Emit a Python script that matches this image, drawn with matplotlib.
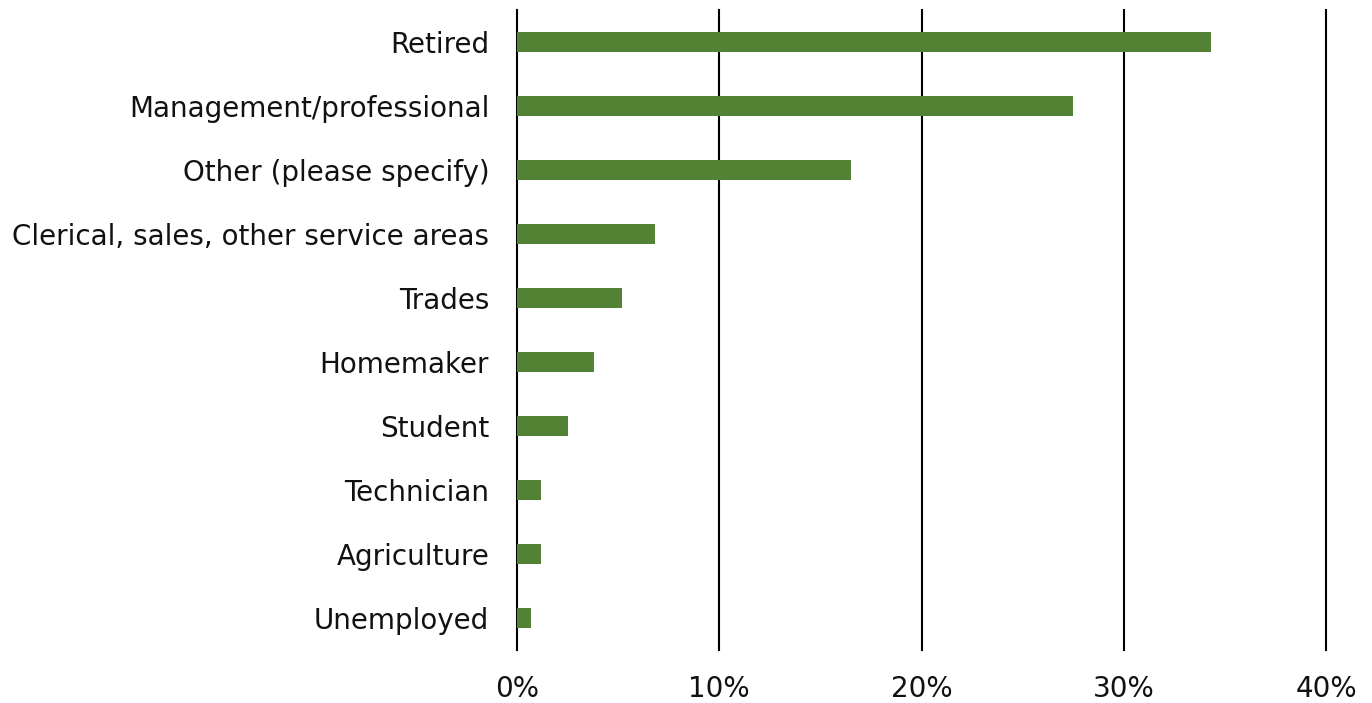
import matplotlib
matplotlib.use("Agg")
import matplotlib.pyplot as plt
from matplotlib.ticker import PercentFormatter

plt.rcParams['font.family'] = ['DejaVu Sans']

categories = ["Retired", "Management/professional", "Other (please specify)",
              "Clerical, sales, other service areas", "Trades", "Homemaker",
              "Student", "Technician", "Agriculture", "Unemployed"]
values = [34.3, 27.5, 16.5, 6.8, 5.2, 3.8, 2.5, 1.2, 1.2, 0.7]

fig = plt.figure(figsize=(13.72, 7.03), dpi=100)
ax = fig.add_axes([0.3768, 0.0754, 0.5897, 0.9104])

ypos = list(range(len(categories)))[::-1]
ax.barh(ypos, values, height=0.31, color="#548235", zorder=3)

ax.set_xlim(0, 40)
ax.set_ylim(-0.5, len(categories) - 0.5)
ax.set_xticks([0, 10, 20, 30, 40])
ax.xaxis.set_major_formatter(PercentFormatter(decimals=0))
ax.set_yticks(ypos)
ax.set_yticklabels(categories)
ax.grid(axis='x', color='black', linewidth=1.5, zorder=0)
for gl in ax.get_xgridlines():
    gl.set_clip_on(False)
for s in ax.spines.values():
    s.set_visible(False)
ax.tick_params(axis='both', length=0, labelsize=20, colors='#111111')
ax.tick_params(axis='y', pad=20)
ax.tick_params(axis='x', pad=18)

fig.savefig("out.png", dpi=100)
